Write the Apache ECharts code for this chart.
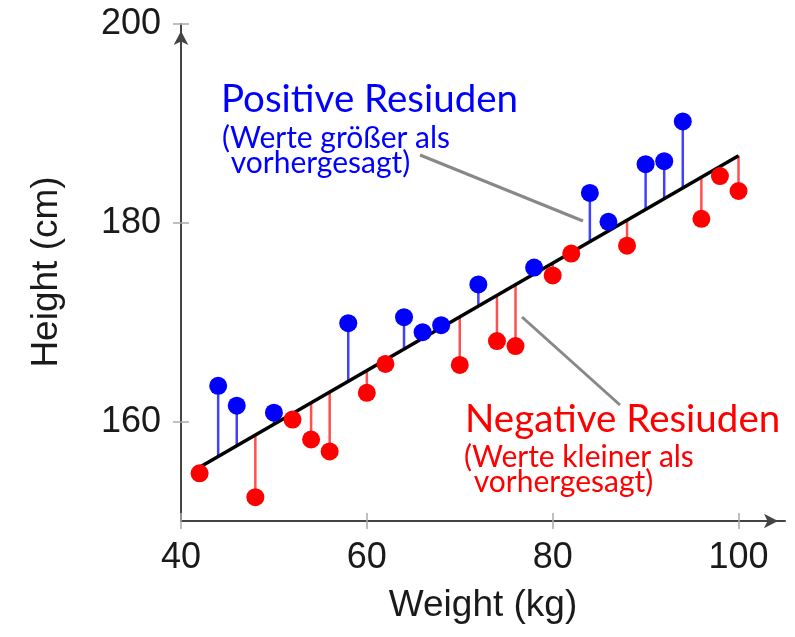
<!DOCTYPE html>
<html>
<head>
<meta charset="utf-8">
<script src="https://cdn.jsdelivr.net/npm/echarts@6/dist/echarts.min.js"></script>
<style>
html,body{margin:0;padding:0;background:#fff;}
#chart{width:795px;height:637px;}
</style>
</head>
<body>
<div id="chart"></div>
<script>
// ---- data ----
const xTicks = [40, 60, 80, 100];
const yTicks = [160, 180, 200];
const posX = [44, 46, 50, 58, 64, 66, 68, 72, 78, 84, 86, 90, 92, 94];
const posY = [163.6, 161.6, 160.9, 169.9, 170.5, 169.0, 169.7, 173.8, 175.5, 183.0, 180.1, 185.9, 186.2, 190.2];
const negX = [42, 48, 52, 54, 56, 60, 62, 70, 74, 76, 80, 82, 88, 96, 98, 100];
const negY = [154.8, 152.4, 160.2, 158.2, 157.0, 162.9, 165.8, 165.7, 168.1, 167.6, 174.7, 176.9, 177.7, 180.4, 184.7, 183.2];
const fitX = [42, 100];
const fitY = [155.4, 186.75];
const xTitle = 'Weight (kg)';
const yTitle = 'Height (cm)';
const posLabel = ['Positive Resiuden', '(Werte größer als', ' vorhergesagt)'];
const negLabel = ['Negative Resiuden', '(Werte kleiner als', ' vorhergesagt)'];

// value of the fitted line at x
function fitAt(x) {
  return fitY[0] + (x - fitX[0]) * (fitY[1] - fitY[0]) / (fitX[1] - fitX[0]);
}
const posData = posX.map((x, i) => [x, posY[i], fitAt(x)]);
const negData = negX.map((x, i) => [x, negY[i], fitAt(x)]);

function stemSeries(data, color) {
  return {
    type: 'custom',
    data: data,
    encode: { x: 0, y: [1, 2] },
    z: 2,
    renderItem: function (params, api) {
      const p = api.coord([api.value(0), api.value(1)]);
      const q = api.coord([api.value(0), api.value(2)]);
      return {
        type: 'line',
        shape: { x1: p[0], y1: p[1], x2: q[0], y2: q[1] },
        style: { stroke: color, lineWidth: 2.5 }
      };
    }
  };
}

const labelFont = "'Liberation Sans', Arial, sans-serif";
const annoFont = "Lato, 'Noto Sans', sans-serif";
const axisLineStyle = { color: '#444', width: 2 };
const tickStyle = { color: '#aaa', width: 1.5 };

const chart = echarts.init(document.getElementById('chart'), null, { renderer: 'canvas' });
chart.setOption({
  animation: false,
  backgroundColor: '#fff',
  grid: { left: 181, right: 10, top: 24, bottom: 116 },
  xAxis: [
    {
      type: 'value', min: 40, max: 105, position: 'bottom',
      splitLine: { show: false },
      axisLine: { show: true, lineStyle: axisLineStyle, symbol: ['none', 'arrow'], symbolSize: [11, 14], symbolOffset: [0, -7] },
      axisTick: { show: true, inside: false, length: 8, lineStyle: tickStyle, customValues: xTicks },
      axisLabel: { show: true, customValues: xTicks, margin: 19, fontFamily: labelFont, fontSize: 36, color: '#1a1a1a' }
    },
    {
      type: 'value', min: 40, max: 105, position: 'bottom', offset: 0,
      splitLine: { show: false },
      axisLine: { show: false },
      axisTick: { show: true, inside: true, length: 8, lineStyle: tickStyle, customValues: xTicks },
      axisLabel: { show: false }
    }
  ],
  yAxis: [
    {
      type: 'value', min: 150, max: 200, position: 'left',
      splitLine: { show: false },
      axisLine: { show: true, lineStyle: axisLineStyle, symbol: ['none', 'arrow'], symbolSize: [11, 14], symbolOffset: [0, -7] },
      axisTick: { show: true, inside: false, length: 8, lineStyle: tickStyle, customValues: yTicks },
      axisLabel: { show: true, customValues: yTicks, margin: 20, fontFamily: labelFont, fontSize: 36, color: '#1a1a1a' }
    },
    {
      type: 'value', min: 150, max: 200, position: 'left', offset: 0,
      splitLine: { show: false },
      axisLine: { show: false },
      axisTick: { show: true, inside: true, length: 8, lineStyle: tickStyle, customValues: yTicks },
      axisLabel: { show: false }
    }
  ],
  series: [
    stemSeries(posData, '#4040ff'),
    stemSeries(negData, '#ff5050'),
    {
      type: 'line',
      data: fitX.map((x, i) => [x, fitY[i]]),
      showSymbol: false,
      symbol: 'none',
      z: 3,
      lineStyle: { color: '#000', width: 3.5 }
    },
    {
      type: 'scatter',
      data: posX.map((x, i) => [x, posY[i]]),
      symbolSize: 18,
      z: 4,
      itemStyle: { color: '#0000ff', opacity: 1 }
    },
    {
      type: 'scatter',
      data: negX.map((x, i) => [x, negY[i]]),
      symbolSize: 18,
      z: 4,
      itemStyle: { color: '#ff0000', opacity: 1 }
    }
  ],
  graphic: [
    { type: 'line', z: 1, shape: { x1: 420, y1: 155, x2: 583, y2: 221 }, style: { stroke: '#888', lineWidth: 3 } },
    { type: 'line', z: 1, shape: { x1: 522, y1: 317, x2: 620, y2: 405 }, style: { stroke: '#888', lineWidth: 3 } },
    { type: 'text', x: 221, y: 100, style: { text: posLabel[0], font: '38.5px ' + annoFont, fill: '#0000ff', verticalAlign: 'middle', align: 'left' } },
    { type: 'text', x: 222, y: 138, style: { text: posLabel[1], font: '30px ' + annoFont, fill: '#0000ff', verticalAlign: 'middle', align: 'left' } },
    { type: 'text', x: 223, y: 163, style: { text: posLabel[2], font: '30px ' + annoFont, fill: '#0000ff', verticalAlign: 'middle', align: 'left' } },
    { type: 'text', x: 465, y: 420, style: { text: negLabel[0], font: '38.5px ' + annoFont, fill: '#ff0000', verticalAlign: 'middle', align: 'left' } },
    { type: 'text', x: 464, y: 457, style: { text: negLabel[1], font: '30px ' + annoFont, fill: '#ff0000', verticalAlign: 'middle', align: 'left' } },
    { type: 'text', x: 466, y: 482, style: { text: negLabel[2], font: '30px ' + annoFont, fill: '#ff0000', verticalAlign: 'middle', align: 'left' } },
    { type: 'text', x: 483, y: 606, style: { text: xTitle, font: '37px ' + labelFont, fill: '#1a1a1a', verticalAlign: 'middle', align: 'center' } },
    { type: 'text', x: 47, y: 272, rotation: Math.PI / 2, style: { text: yTitle, font: '37px ' + labelFont, fill: '#1a1a1a', verticalAlign: 'middle', align: 'center' } }
  ]
});
</script>
</body>
</html>
